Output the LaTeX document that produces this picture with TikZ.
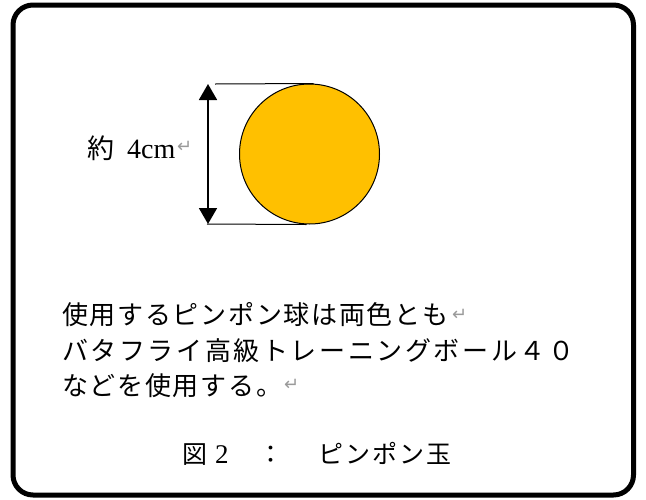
\documentclass[tikz,border=0pt]{standalone}
\usepackage{fontspec}
\setmainfont{Liberation Serif}
\newfontfamily\jp{Noto Sans CJK JP}
\newfontfamily\symf{DejaVu Sans}
\usetikzlibrary{arrows.meta}
\definecolor{ballorange}{HTML}{FFC000}
\definecolor{retgray}{HTML}{9A9A9A}
\tikzset{
  frame/.style={draw, line width=5pt, rounded corners=20pt, minimum width=620.5pt, minimum height=490pt, inner sep=0pt},
  ball/.style={circle, draw, line width=1pt, fill=ballorange, minimum size=140pt, inner sep=0pt},
  dimline/.style={line width=1pt},
  dimarrow/.style={line width=1.8pt, {Triangle[width=18pt,length=16pt]}-{Triangle[width=18pt,length=16pt]}},
  jptext/.style={anchor=base west, inner sep=0pt, font=\jp\fontsize{26}{26}\selectfont},
  rettext/.style={anchor=west, inner sep=0pt, text=retgray, font=\symf\fontsize{18}{18}\selectfont},
  captext/.style={anchor=base west, inner sep=0pt, font=\jp\fontsize{25}{25}\selectfont}
}
\begin{document}
\begin{tikzpicture}[x=1pt,y=-1pt]
\useasboundingbox (0,0) rectangle (646,499);
\node[frame] (box) at (323.25,250) {};
\node[ball] (ball) at (309.5,154) {};
\coordinate (tl) at (215,84);
\coordinate (bl) at (207,224);
\coordinate (at) at (208,84);
\coordinate (ab) at (208,224);
\draw[dimline] (tl) -- ([xshift=4pt]ball.north);
\draw[dimline] (bl) -- ([xshift=-3pt]ball.south);
\draw[dimarrow] (at) -- (ab);
% size label
\node[anchor=base west, inner sep=0pt, font=\jp\fontsize{27}{27}\selectfont] (yaku) at (87,158) {約};
\node[anchor=base west, inner sep=0pt, font=\fontsize{28}{28}\selectfont] (cm) at (127,158) {4cm};
\node[rettext] (r0) at (177,147) {↵};
% text lines
\node[jptext] (l1) at (62,324) {\addfontfeature{LetterSpace=6.5}使用するピンポン球は両色とも};
\node[rettext] (r1) at (452,315) {↵};
\node[jptext] (l2) at (62,360) {\addfontfeature{LetterSpace=10}バタフライ高級トレーニングボール４０};
\node[jptext] (l3) at (62,395) {\addfontfeature{LetterSpace=6.5}などを使用する。};
\node[rettext] (r3) at (284,385) {↵};
% caption
\node[captext] (zu) at (182,463.5) {図};
\node[anchor=base west, inner sep=0pt, font=\fontsize{27}{27}\selectfont] (two) at (215,463.5) {2};
\node[anchor=base, inner sep=0pt, font=\jp\fontsize{25}{25}\selectfont] (colon) at (271,463.5) {：};
\node[captext] (pp) at (318,463.5) {\addfontfeature{LetterSpace=8}ピンポン玉};
\end{tikzpicture}
\end{document}
